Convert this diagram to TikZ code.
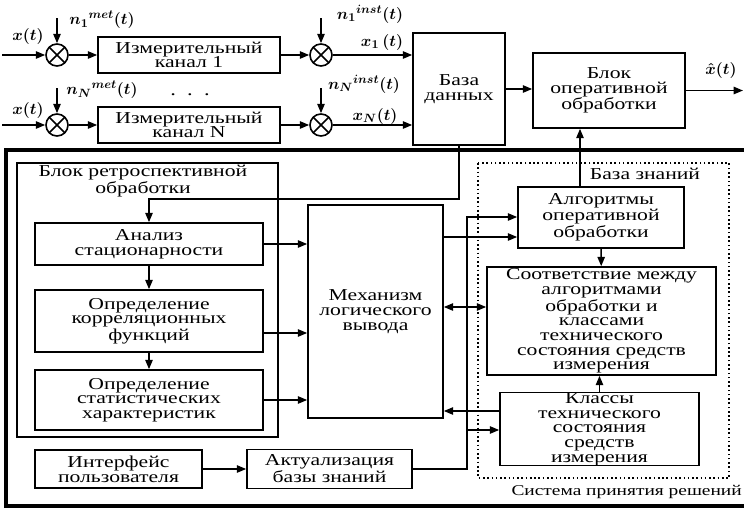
\documentclass[tikz,border=0pt]{standalone}
\usepackage{fontspec}
\setmainfont{Liberation Serif}[FakeStretch=1.3]
\usepackage{amsmath}
\usetikzlibrary{arrows.meta}

\begin{document}
\begin{tikzpicture}[x=0.75pt,y=0.75pt,yscale=-1,xscale=1,
  blk/.style={draw, line width=1.2pt, inner sep=0pt, align=center, font=\fontsize{12.5}{11}\selectfont},
  mixer/.style={draw, circle, line width=1.2pt, minimum size=16.5pt, inner sep=0pt,
    path picture={\draw[line width=1.2pt] (path picture bounding box.north west) -- (path picture bounding box.south east)
      (path picture bounding box.north east) -- (path picture bounding box.south west);}},
  arr/.style={line width=1.2pt, -{Triangle[length=7pt,width=5.5pt]}},
  darr/.style={line width=1.2pt, {Triangle[length=7pt,width=5.5pt]}-{Triangle[length=7pt,width=5.5pt]}},
  sig/.style={inner sep=0.75pt, font=\fontsize{13}{15}\selectfont\boldmath},
  txt/.style={inner sep=0.75pt, align=center, font=\fontsize{12.5}{11}\selectfont}]
  \useasboundingbox (0,0) rectangle (744,508);

  %Shape: Rectangle [outer system]
  \draw [line width=2.4pt] (744,150) -- (6,150) -- (6,506) -- (744,506) ;
  %Shape: Rectangle [retro block]
  \draw [line width=1.2pt] (17,163) rectangle (278,437) ;
  %Shape: Rectangle [knowledge base]
  \draw [line width=1.2pt, dotted] (478,163) rectangle (729,478) ;

  % measuring channels
  \node[mixer] (m1) at (57,55) {};
  \node[blk, minimum width=136.5pt, minimum height=27pt] (kan1) at (189,55) {Измерительный\\канал 1};
  \node[mixer] (m2) at (321,55) {};
  \node[mixer] (m3) at (57,125) {};
  \node[blk, minimum width=136.5pt, minimum height=27pt] (kanN) at (189,125) {Измерительный\\канал N};
  \node[mixer] (m4) at (321,125) {};

  \node[blk, minimum width=69pt, minimum height=84pt] (db) at (459,89) {База\\данных};
  \node[blk, minimum width=114pt, minimum height=56.25pt] (oper) at (609,90.5) {Блок\\оперативной\\обработки};

  % retrospective processing
  \node[blk, minimum width=171pt, minimum height=31.5pt] (analiz) at (149,244) {Анализ\\стационарности};
  \node[blk, minimum width=171pt, minimum height=46.5pt] (korr) at (149,321) {Определение\\корреляционных\\функций};
  \node[blk, minimum width=171pt, minimum height=45pt] (stat) at (149,400) {Определение\\статистических\\характеристик};
  \node[blk, minimum width=101.25pt, minimum height=159.75pt] (mech) at (375.5,311.5) {Механизм\\логического\\вывода};

  % knowledge base
  \node[blk, minimum width=124.5pt, minimum height=45.75pt] (algo) at (601,217.5) {Алгоритмы\\оперативной\\обработки};
  \node[blk, minimum width=171.75pt, minimum height=81pt] (sootv) at (601.5,321) {Соответствие между\\алгоритмами\\обработки и\\классами\\технического\\состояния средств\\измерения};
  \node[blk, minimum width=149.25pt, minimum height=54pt] (klassy) at (599.5,429) {Классы\\технического\\состояния\\средств\\измерения};

  \node[blk, minimum width=125.25pt, minimum height=28.5pt] (interf) at (118.5,469) {Интерфейс\\пользователя};
  \node[blk, minimum width=123.75pt, minimum height=29.25pt] (aktual) at (329.5,469) {Актуализация\\базы знаний};

  % Text Node
  \node[sig] (lx1) at (28,36) {$x(t)$};
  \node[sig] (lnm1) at (102,20) {$n_1{}^{met}(t)$};
  \node[sig] (lx2) at (28,110) {$x(t)$};
  \node[sig] (lnmN) at (102,90) {$n_N{}^{met}(t)$};
  \node[sig] (ldots) at (190,95) {.\ \ .\ \ .};
  \node[sig] (lni1) at (370,14) {$n_1{}^{inst}(t)$};
  \node[sig] (lx1o) at (382,42) {$x_1\,(t)$};
  \node[sig] (lniN) at (364,84) {$n_N{}^{inst}(t)$};
  \node[sig] (lxNo) at (375,116) {$x_N(t)$};
  \node[sig] (lxh) at (721,70) {$\hat{x}(t)$};
  \node[txt] (lkb) at (645,174) {База знаний};
  \node[txt] (lretro) at (143,181) {Блок ретроспективной\\обработки};
  \node[inner sep=0.75pt, anchor=east, font=\fontsize{11.2}{13}\selectfont] (lsys) at (743,492) {Система принятия решений};

  % free ends
  \coordinate (in1) at (2,55);
  \coordinate (in2) at (2,125);
  \coordinate (nm1) at (57,18);
  \coordinate (nmN) at (57,88);
  \coordinate (ni1) at (321,18);
  \coordinate (niN) at (321,88);
  \coordinate (out) at (743,90.5);
  \coordinate (up) at (580,187);
  \coordinate (bend) at (459,199);
  \coordinate (kk) at (300,333);
  \coordinate (ma) at (450,237);
  \coordinate (ms) at (450,307);
  \coordinate (km) at (450,411);
  \coordinate (vt) at (467,217);
  \coordinate (vk) at (467,430);

  % top chain
  \draw[arr] (in1) -- (m1);
  \draw[arr] (nm1) -- (m1);
  \draw[arr] (m1) -- (kan1);
  \draw[arr] (kan1) -- (m2);
  \draw[arr] (ni1) -- (m2);
  \draw[arr] (m2) -- (m2 -| db.west);
  \draw[arr] (in2) -- (m3);
  \draw[arr] (nmN) -- (m3);
  \draw[arr] (m3) -- (kanN);
  \draw[arr] (kanN) -- (m4);
  \draw[arr] (niN) -- (m4);
  \draw[arr] (m4) -- (m4 -| db.west);
  \draw[arr] (db) -- (db -| oper.west);
  \draw[arr] (oper) -- (out);
  \draw[arr] (up) -- (up |- oper.south);

  % retrospective
  \draw[arr] (db) -- (bend) -| (analiz);
  \draw[arr] (analiz) -- (korr);
  \draw[arr] (korr) -- (stat);
  \draw[arr] (analiz) -- (analiz -| mech.west);
  \draw[arr] (kk -| korr.east) -- (kk -| mech.west);
  \draw[arr] (stat) -- (stat -| mech.west);

  % knowledge base links
  \draw[arr] (ma -| mech.east) -- (ma -| algo.west);
  \draw[darr] (ms -| mech.east) -- (ms -| sootv.west);
  \draw[arr] (km -| klassy.west) -- (km -| mech.east);
  \draw[arr] (algo) -- (sootv);
  \draw[arr] (klassy.north) -- (klassy.north |- sootv.south);
  \draw[arr] (interf) -- (aktual);
  \draw[arr] (aktual) -- (aktual -| vt) -- (vt) -- (vt -| algo.west);
  \draw[arr] (vk) -- (vk -| klassy.west);
\end{tikzpicture}
\end{document}
